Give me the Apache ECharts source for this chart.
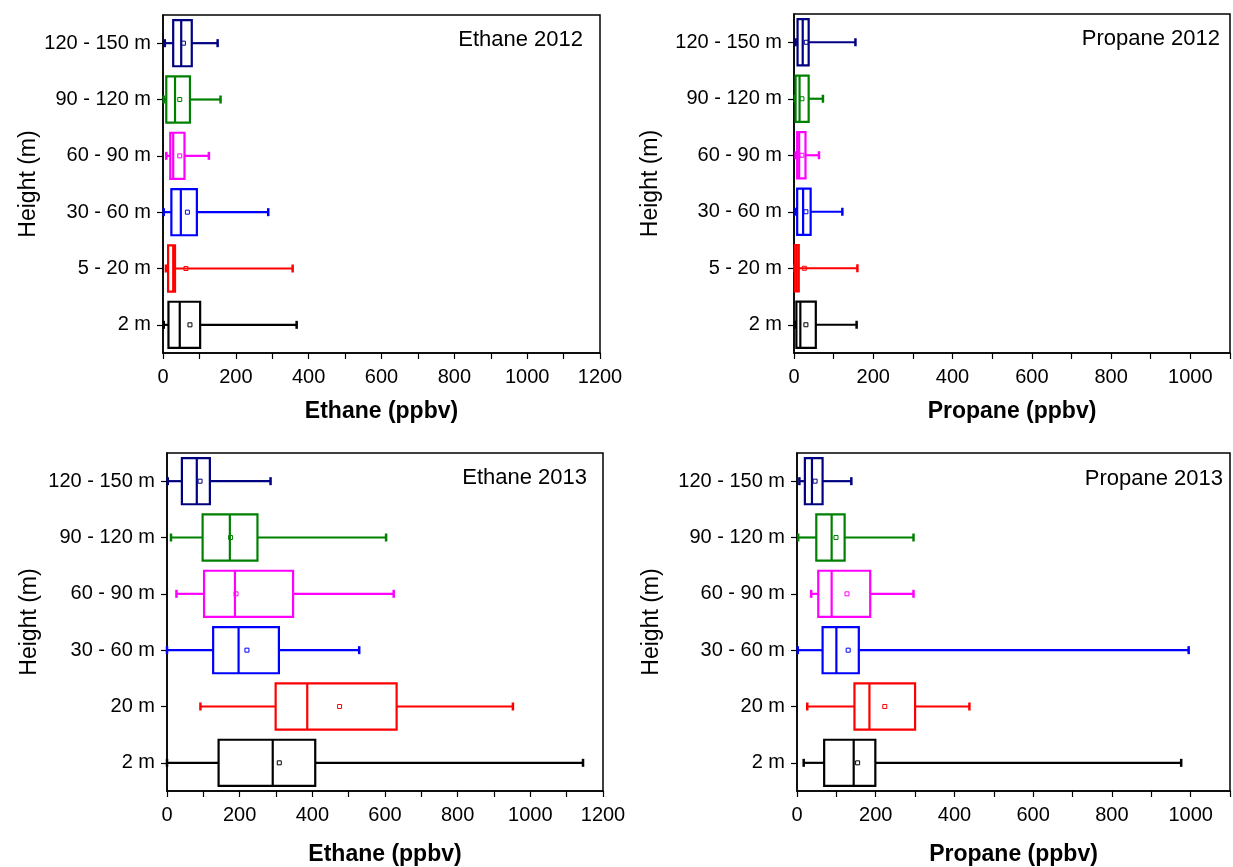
<!DOCTYPE html>
<html>
<head>
<meta charset="utf-8">
<script src="https://cdn.jsdelivr.net/npm/echarts@6/dist/echarts.min.js"></script>
<style>
  html, body { margin: 0; padding: 0; background: #fff; }
  #chart { width: 1233px; height: 867px; }
</style>
</head>
<body>
<div id="chart"></div>
<script>
// categories, bottom to top
var heights2012 = ['2 m', '5 - 20 m', '30 - 60 m', '60 - 90 m', '90 - 120 m', '120 - 150 m'];
var heights2013 = ['2 m', '20 m', '30 - 60 m', '60 - 90 m', '90 - 120 m', '120 - 150 m'];
var heightColors = ['#000000', '#ff0000', '#0000ff', '#ff00ff', '#008000', '#000080'];

// each row: [low, q1, median, q3, high, mean] (ppbv)
var ethane2012 = [
  [2, 15, 46, 102, 367, 74],
  [8, 14, 28, 33, 356, 63],
  [2, 23, 49, 93, 289, 67],
  [9, 20, 28, 59, 126, 46],
  [2, 9, 33, 74, 158, 46],
  [5, 28, 50, 79, 150, 56]
];
var propane2012 = [
  [4, 6, 16, 55, 158, 30],
  [1, 2, 7, 12, 160, 26],
  [4, 8, 23, 42, 122, 30],
  [4, 8, 13, 29, 63, 20],
  [2, 4, 14, 37, 73, 20],
  [4, 9, 22, 37, 155, 31]
];
var ethane2013 = [
  [0, 142, 291, 408, 1145, 309],
  [92, 299, 386, 632, 952, 475],
  [0, 127, 197, 308, 529, 220],
  [26, 102, 187, 347, 624, 190],
  [11, 98, 173, 249, 603, 175],
  [2, 41, 82, 118, 285, 91]
];
var propane2013 = [
  [17, 69, 144, 199, 976, 154],
  [26, 146, 184, 300, 438, 223],
  [2, 65, 100, 157, 995, 130],
  [36, 54, 88, 186, 296, 127],
  [3, 49, 88, 121, 296, 99],
  [6, 20, 38, 65, 138, 46]
];

var FONT = "'Liberation Sans', Arial, sans-serif";

var panels = [
  {title: 'Ethane 2012', xName: 'Ethane (ppbv)', cats: heights2012, rows: ethane2012, max: 1200,
   grid: {left: 163, top: 15, width: 437, height: 338}, nameGap: 47, yGap: 122, titlePos: {right: 645, top: 24}},
  {title: 'Propane 2012', xName: 'Propane (ppbv)', cats: heights2012, rows: propane2012, max: 1100,
   grid: {left: 794, top: 14, width: 436, height: 339}, nameGap: 47, yGap: 132, titlePos: {right: 8, top: 23}},
  {title: 'Ethane 2013', xName: 'Ethane (ppbv)', cats: heights2013, rows: ethane2013, max: 1200,
   grid: {left: 167, top: 453, width: 436, height: 340}, nameGap: 52, yGap: 126, titlePos: {right: 641, top: 462}},
  {title: 'Propane 2013', xName: 'Propane (ppbv)', cats: heights2013, rows: propane2013, max: 1100,
   grid: {left: 797, top: 453, width: 436, height: 340}, nameGap: 52, yGap: 134, titlePos: {right: 5, top: 463}}
];

function renderBox(params, api) {
  var cat = api.value(0);
  var low = api.coord([api.value(1), cat]);
  var q1 = api.coord([api.value(2), cat]);
  var med = api.coord([api.value(3), cat]);
  var q3 = api.coord([api.value(4), cat]);
  var high = api.coord([api.value(5), cat]);
  var mean = api.coord([api.value(6), cat]);
  var h = api.size([0, 1])[1] * 0.41;
  var y = low[1];
  var c = heightColors[cat];
  var st = {stroke: c, lineWidth: 2.2, fill: null};
  return {
    type: 'group',
    children: [
      {type: 'line', shape: {x1: low[0], y1: y, x2: q1[0], y2: y}, style: st},
      {type: 'line', shape: {x1: q3[0], y1: y, x2: high[0], y2: y}, style: st},
      {type: 'line', shape: {x1: low[0], y1: y - 4, x2: low[0], y2: y + 4}, style: {stroke: c, lineWidth: 2.5}},
      {type: 'line', shape: {x1: high[0], y1: y - 4, x2: high[0], y2: y + 4}, style: {stroke: c, lineWidth: 2.5}},
      {type: 'rect', shape: {x: q1[0], y: y - h, width: q3[0] - q1[0], height: 2 * h}, style: st},
      {type: 'line', shape: {x1: med[0], y1: y - h, x2: med[0], y2: y + h}, style: st},
      {type: 'rect', shape: {x: mean[0] - 2, y: y - 2, width: 4, height: 4}, style: {stroke: c, lineWidth: 1, fill: null}}
    ]
  };
}

var grids = [], xAxes = [], yAxes = [], series = [], titles = [];
panels.forEach(function (p, i) {
  grids.push(Object.assign({show: true, borderColor: '#000', borderWidth: 1.5, backgroundColor: 'transparent'}, p.grid));
  titles.push(Object.assign({
    text: p.title,
    textStyle: {fontFamily: FONT, fontSize: 22, fontWeight: 'normal', color: '#000'}
  }, p.titlePos));
  xAxes.push({
    type: 'value', gridIndex: i, min: 0, max: p.max, interval: 100,
    name: p.xName, nameLocation: 'middle', nameGap: p.nameGap,
    nameTextStyle: {fontFamily: FONT, fontSize: 23, fontWeight: 'bold', color: '#000'},
    axisLine: {show: true, lineStyle: {color: '#000', width: 1.5}},
    axisTick: {show: true, length: 6, lineStyle: {color: '#000', width: 1.2}},
    splitLine: {show: false},
    axisLabel: {
      fontFamily: FONT, fontSize: 20, color: '#000', margin: 14,
      formatter: function (v) { return v % 200 === 0 ? String(v) : ''; }
    }
  });
  yAxes.push({
    type: 'category', gridIndex: i, data: p.cats,
    name: 'Height (m)', nameLocation: 'middle', nameGap: p.yGap, nameRotate: 90,
    nameTextStyle: {fontFamily: FONT, fontSize: 23, color: '#000'},
    axisLine: {show: true, lineStyle: {color: '#000', width: 1.5}},
    axisTick: {show: true, alignWithLabel: true, length: 6, lineStyle: {color: '#000', width: 1.2}},
    axisLabel: {fontFamily: FONT, fontSize: 20, color: '#000', margin: 12}
  });
  series.push({
    type: 'custom', xAxisIndex: i, yAxisIndex: i,
    renderItem: renderBox,
    encode: {x: [1, 2, 3, 4, 5, 6], y: 0},
    data: p.rows.map(function (r, k) { return [k].concat(r); }),
    clip: false, silent: true
  });
});

var chart = echarts.init(document.getElementById('chart'), null, {renderer: 'canvas'});
chart.setOption({
  animation: false,
  backgroundColor: '#fff',
  title: titles,
  grid: grids,
  xAxis: xAxes,
  yAxis: yAxes,
  series: series
});
</script>
</body>
</html>
